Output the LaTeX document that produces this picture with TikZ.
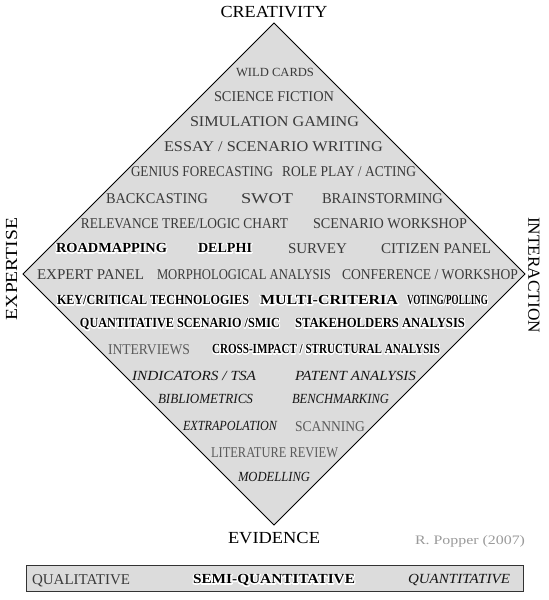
\documentclass[tikz,border=0pt]{standalone}
\usepackage{fontspec}
\setmainfont{Liberation Serif}
\usepackage{graphicx}
\definecolor{txt}{HTML}{3A3A3A}
\definecolor{txtl}{HTML}{5A5A5A}
\definecolor{itx}{HTML}{151515}
\definecolor{fillg}{HTML}{DCDCDC}
\definecolor{credit}{HTML}{9A9A9A}
\newsavebox\fitbox
\newdimen\fitd
\newcommand\fitw[2]{\sbox\fitbox{#2}\fitd=\wd\fitbox\pgfmathsetmacro\fitsx{#1/\fitd}\scalebox{\fitsx}[1]{\usebox\fitbox}}
\newcommand\place[6]{%
  \pgfmathsetmacro\plx{(#3+#4)/2}%
  \pgfmathsetmacro\plw{#4-#3}%
  \node[lab,#2] (#1) at (\plx,#5) {\fitw{\plw bp}{#6}};%
}
% white halo: a white stroked copy underneath, then the text itself
\newcommand\halo[1]{\leavevmode\rlap{\special{pdf:code q 2 Tr 2.4 w 1 j 1 J 1 1 1 RG 1 1 1 rg}#1\special{pdf:code Q}}#1}
\tikzset{
  lab/.style={inner sep=0pt, outer sep=0pt, anchor=base},
  gr/.style={font=\fontsize{15}{16}\selectfont, text=txt, yshift=-5bp},
  grs/.style={font=\fontsize{12.5}{13}\selectfont, text=txt, yshift=-4.1bp},
  grl/.style={font=\fontsize{15}{16}\selectfont, text=txtl, yshift=-5bp},
  bd/.style={font=\fontsize{14}{15}\selectfont\bfseries, text=black, yshift=-4.6bp},
  it/.style={font=\fontsize{14}{15}\selectfont\itshape, text=itx, yshift=-4.6bp},
  axis/.style={inner sep=0pt, outer sep=0pt, anchor=center, text=black, font=\fontsize{17}{18}\selectfont},
  cred/.style={font=\fontsize{13}{14}\selectfont, text=credit, yshift=-4.3bp},
  diamondshape/.style={fill=fillg, draw=black, line width=0.8bp, line join=miter},
  barbox/.style={fill=fillg, draw=black!80, line width=1bp}
}
\begin{document}
\begin{tikzpicture}[x=1bp,y=-1bp]
\useasboundingbox (0,0) rectangle (549,600);
% diamond
\coordinate (top) at (274,23);
\coordinate (right) at (525,274);
\coordinate (bottom) at (274,525);
\coordinate (left) at (23,274);
\draw[diamondshape] (top) -- (right) -- (bottom) -- (left) -- cycle;
% axis labels
\node[axis] (creat) at (274,12) {\fitw{107bp}{CREATIVITY}};
\node[axis] (evid) at (274,538) {\fitw{92bp}{EVIDENCE}};
\node[axis, rotate=90] (expert) at (11.5,269) {\fitw{102bp}{EXPERTISE}};
\node[axis, rotate=-90] (inter) at (534,275) {\fitw{116bp}{INTERACTION}};
% rows
\place{wild}{grs}{236}{314}{72}{WILD CARDS}
\place{scifi}{gr}{214}{334}{97}{SCIENCE FICTION}
\place{simg}{gr}{190}{359}{122}{SIMULATION GAMING}
\place{essay}{gr}{164}{383}{147}{ESSAY / SCENARIO WRITING}
\place{genius}{gr}{131}{273}{172}{GENIUS FORECASTING}
\place{role}{gr}{282}{416}{172}{ROLE PLAY / ACTING}
\place{backc}{gr}{106}{208}{198}{BACKCASTING}
\place{swot}{gr}{241}{293}{198}{SWOT}
\place{brain}{gr}{322}{443}{198}{BRAINSTORMING}
\place{relev}{gr}{81}{288}{223}{RELEVANCE TREE/LOGIC CHART}
\place{scenw}{gr}{313}{467}{223}{SCENARIO WORKSHOP}
\place{roadm}{bd}{56}{167}{248}{\halo{ROADMAPPING}}
\place{delphi}{bd}{198}{252}{248}{\halo{DELPHI}}
\place{survey}{gr}{288}{347}{248}{SURVEY}
\place{citiz}{gr}{381}{491}{248}{CITIZEN PANEL}
\place{expp}{gr}{37}{144}{274}{EXPERT PANEL}
\place{morph}{gr}{157}{331}{274}{MORPHOLOGICAL ANALYSIS}
\place{conf}{gr}{342}{518}{274}{CONFERENCE / WORKSHOP}
\place{keyc}{bd}{57}{249}{300}{\halo{KEY/CRITICAL TECHNOLOGIES}}
\place{multi}{bd}{260}{398}{300}{\halo{MULTI-CRITERIA}}
\place{voting}{bd}{407}{488}{300}{\halo{VOTING/POLLING}}
\place{quants}{bd}{80}{280}{323}{\halo{QUANTITATIVE SCENARIO /SMIC}}
\place{stake}{bd}{295}{465}{323}{\halo{STAKEHOLDERS ANALYSIS}}
\place{interv}{grl}{108}{190}{349}{INTERVIEWS}
\place{cross}{bd}{212}{440}{349}{\halo{CROSS-IMPACT / STRUCTURAL ANALYSIS}}
\place{indic}{it}{132}{256}{376}{INDICATORS / TSA}
\place{patent}{it}{295}{416}{376}{PATENT ANALYSIS}
\place{biblio}{it}{158}{253}{399}{BIBLIOMETRICS}
\place{bench}{it}{292}{389}{399}{BENCHMARKING}
\place{extrap}{it}{183}{277}{426}{EXTRAPOLATION}
\place{scan}{grl}{295}{365}{426}{SCANNING}
\place{litrev}{grl}{211}{338}{452}{LITERATURE REVIEW}
\place{model}{it}{238}{310}{477}{MODELLING}
% credit
\place{popper}{cred}{415}{525}{540}{R. Popper (2007)}
% bottom bar
\draw[barbox] (26,565) rectangle (523,591);
\place{qual}{gr}{32}{130}{579}{QUALITATIVE}
\place{semi}{bd}{193}{355}{579}{\halo{SEMI-QUANTITATIVE}}
\place{quant}{it}{408}{510}{579}{QUANTITATIVE}
\end{tikzpicture}
\end{document}
